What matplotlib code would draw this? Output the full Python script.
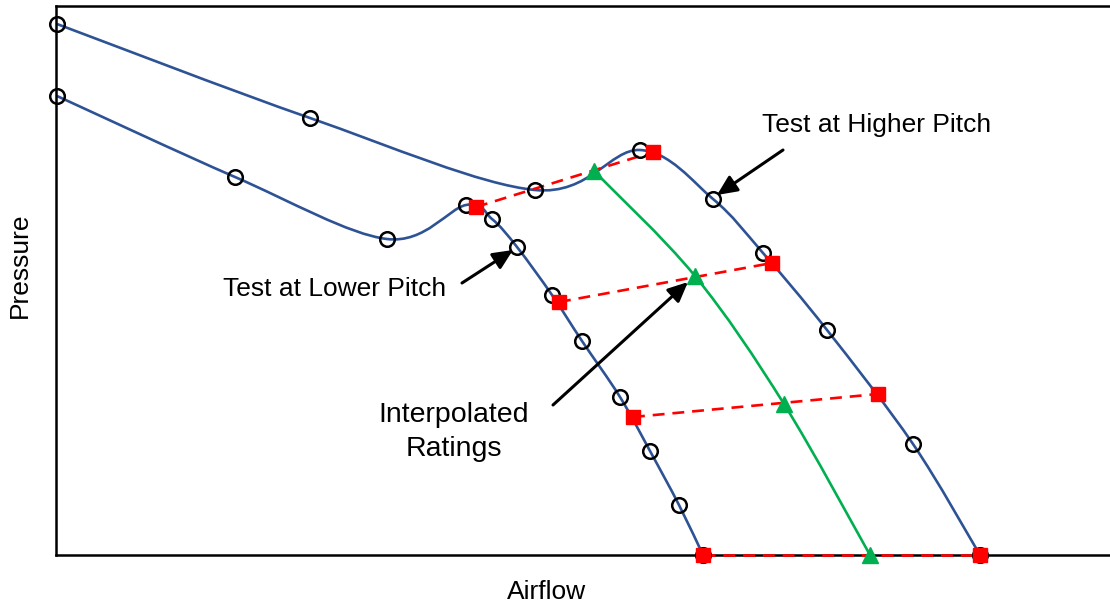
import matplotlib.pyplot as plt
import numpy as np
from matplotlib.path import Path
from matplotlib.patches import PathPatch

plt.rcParams['font.family'] = ['Liberation Sans', 'DejaVu Sans']

# test points, higher pitch (airflow, pressure)
high_flow = [1, 254, 479, 584, 657, 707, 771, 857, 924]
high_pres = [531, 437, 365, 405, 356, 302, 225, 111, 0]

# test points, lower pitch
low_flow = [1, 179, 331, 410, 436, 461, 496, 526, 564, 594, 623, 647]
low_pres = [459, 378, 316, 350, 336, 308, 260, 214, 158, 104, 50, 0]

# rating points picked off each test curve
high_rate_flow = [597, 716, 822, 924]
high_rate_pres = [403, 292, 161, 0]
low_rate_flow = [420, 503, 577, 647]
low_rate_pres = [348, 253, 138, 0]

# interpolated ratings
interp_flow = [538, 639, 728, 814]
interp_pres = [384, 279, 151, 0]

BLUE = '#2E5395'
RED = '#FF0000'
GREEN = '#00B050'


def smooth_path(xs, ys):
    """Bezier path through the points (Catmull-Rom style, like Excel smoothing)."""
    p = np.column_stack([xs, ys]).astype(float)
    pts = np.vstack([p[0], p, p[-1]])
    verts = [p[0]]
    codes = [Path.MOVETO]
    for i in range(1, len(pts) - 2):
        c1 = pts[i] + (pts[i + 1] - pts[i - 1]) / 6
        c2 = pts[i + 1] - (pts[i + 2] - pts[i]) / 6
        verts += [c1, c2, pts[i + 1]]
        codes += [Path.CURVE4] * 3
    return Path(verts, codes)


fig = plt.figure(figsize=(11.1, 6.07), dpi=100)
ax = fig.add_axes([56 / 1110, 52 / 607, 1054 / 1110, 549 / 607])
ax.set_xlim(0, 1054)
ax.set_ylim(0, 549)

for xs, ys, c in [(high_flow, high_pres, BLUE), (low_flow, low_pres, BLUE),
                  (interp_flow, interp_pres, GREEN)]:
    ax.add_patch(PathPatch(smooth_path(xs, ys), facecolor='none', edgecolor=c,
                           lw=1.9, zorder=2, clip_on=False))

# dashed lines between matching rating points
for i in range(len(low_rate_flow)):
    ax.plot([low_rate_flow[i], high_rate_flow[i]], [low_rate_pres[i], high_rate_pres[i]],
            color=RED, lw=1.9, ls=(0, (4.5, 3)), zorder=3, clip_on=False)

for xs, ys in [(high_flow, high_pres), (low_flow, low_pres)]:
    ax.plot(xs, ys, 'o', ms=10.5, mfc='none', mec='black', mew=1.8, zorder=4, clip_on=False)

ax.plot(high_rate_flow + low_rate_flow, high_rate_pres + low_rate_pres, 's',
        ms=10.5, color=RED, zorder=5, clip_on=False)
ax.plot(interp_flow, interp_pres, '^', ms=11.5, color=GREEN, zorder=5, clip_on=False)

arrow = dict(arrowstyle='-|>,head_length=1.2,head_width=0.55', lw=2.2, color='black',
             shrinkA=0, shrinkB=0)
ax.text(821, 430, 'Test at Higher Pitch', fontsize=19, ha='center', va='center')
ax.annotate('', xy=(661, 360), xytext=(727, 405), arrowprops=arrow)
ax.text(279, 266, 'Test at Lower Pitch', fontsize=19, ha='center', va='center')
ax.annotate('', xy=(457, 305), xytext=(406, 272), arrowprops=arrow)
ax.text(398, 123, 'Interpolated\nRatings', fontsize=20.5, ha='center', va='center',
        linespacing=1.45)
ax.annotate('', xy=(632, 273), xytext=(497, 150), arrowprops=arrow)

ax.set_xticks([])
ax.set_yticks([])
ax.spines['right'].set_visible(False)
for s in ['left', 'top', 'bottom']:
    ax.spines[s].set_linewidth(1.8)

fig.text(547 / 1110, 1 - 592 / 607, 'Airflow', fontsize=19, ha='center', va='center')
fig.text(20 / 1110, 1 - 265 / 607, 'Pressure', fontsize=19, ha='center', va='center',
         rotation=90)

fig.savefig('out.png', dpi=100)
